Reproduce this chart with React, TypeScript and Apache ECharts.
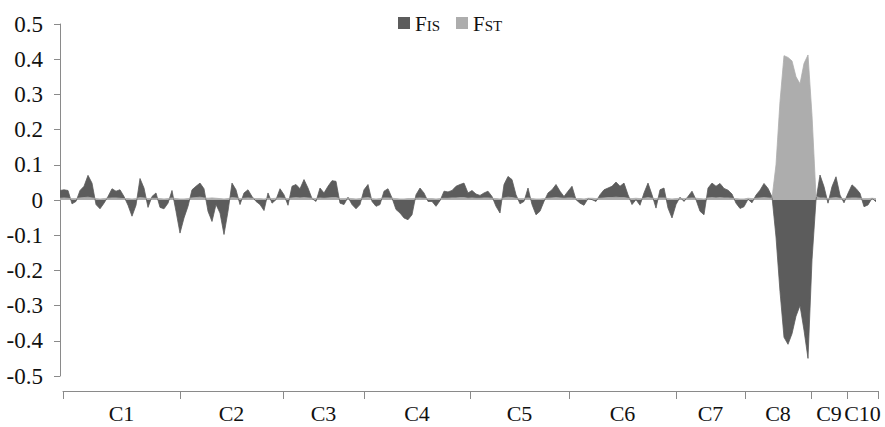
import React, { useEffect, useRef } from "react";
import * as echarts from "echarts";

// FIS values along the genome (window index order)
const fisValues: number[] = [
  0.027, 0.029, 0.027, -0.011, -0.004, 0.027, 0.039, 0.07, 0.048, -0.013,
  -0.025, -0.009, 0.01, 0.032, 0.025, 0.029, 0.01, -0.015, -0.046, -0.015,
  0.061, 0.034, -0.021, 0.01, 0.02, -0.021, -0.025, -0.009, 0.027, -0.032,
  -0.094, -0.051, -0.018, 0.029, 0.039, 0.048, 0.032, -0.032, -0.061, -0.013,
  -0.037, -0.098, -0.032, 0.048, 0.029, -0.013, 0.02, 0.029, 0.01, -0.004,
  -0.013, -0.03, 0.02, -0.009, 0.001, 0.032, 0.015, -0.015, 0.039, 0.044,
  0.032, 0.058, 0.034, 0.004, -0.004, 0.034, 0.02, 0.039, 0.055, 0.053,
  -0.009, -0.013, 0.008, -0.013, -0.025, -0.013, 0.029, 0.044, -0.004, -0.018,
  -0.013, 0.025, 0.032, 0.006, -0.027, -0.037, -0.051, -0.056, -0.042, 0.015,
  0.034, 0.02, -0.004, -0.004, -0.018, -0.002, 0.025, 0.023, 0.027, 0.039,
  0.044, 0.048, 0.02, 0.027, 0.017, 0.013, 0.02, 0.025, 0.01, -0.018,
  -0.037, 0.044, 0.067, 0.058, 0.015, -0.011, -0.004, 0.034, -0.013, -0.042,
  -0.032, -0.004, 0.02, 0.029, 0.044, 0.025, 0.01, 0.025, 0.039, 0.001,
  -0.009, -0.015, 0.004, 0.001, -0.004, 0.015, 0.029, 0.034, 0.039, 0.051,
  0.039, 0.048, 0.015, -0.013, 0.001, -0.015, 0.02, 0.048, 0.015, -0.023,
  0.029, 0.034, -0.023, -0.051, -0.013, 0.008, -0.004, 0.01, 0.025, 0.001,
  -0.032, -0.042, 0.034, 0.048, 0.039, 0.047, 0.033, 0.028, 0.017, -0.009,
  -0.024, -0.019, 0.002, -0.008, 0.014, 0.028, 0.047, 0.033, 0.009, -0.105,
  -0.26, -0.39, -0.41, -0.38, -0.33, -0.3, -0.37, -0.45, -0.17, 0.0,
  0.071, 0.038, -0.009, 0.038, 0.066, 0.014, -0.008, 0.019, 0.043, 0.033,
  0.019, -0.019, -0.014, 0.005, -0.005,
];

// FST values along the genome (same windows)
const fstValues: number[] = [
  0.005, 0.006, 0.005, 0.004, 0.004, 0.006, 0.007, 0.008, 0.006, 0.004,
  0.003, 0.004, 0.005, 0.006, 0.006, 0.005, 0.004, 0.004, 0.003, 0.004,
  0.007, 0.006, 0.004, 0.005, 0.005, 0.004, 0.003, 0.004, 0.006, 0.004,
  0.003, 0.003, 0.004, 0.006, 0.007, 0.008, 0.006, 0.005, 0.006, 0.005,
  0.004, 0.003, 0.004, 0.007, 0.006, 0.004, 0.005, 0.006, 0.005, 0.004,
  0.004, 0.003, 0.005, 0.004, 0.005, 0.006, 0.005, 0.004, 0.006, 0.007,
  0.006, 0.007, 0.006, 0.005, 0.004, 0.006, 0.005, 0.006, 0.007, 0.007,
  0.004, 0.004, 0.005, 0.004, 0.003, 0.004, 0.006, 0.007, 0.004, 0.003,
  0.004, 0.006, 0.006, 0.005, 0.004, 0.003, 0.003, 0.004, 0.004, 0.005,
  0.006, 0.005, 0.004, 0.004, 0.003, 0.004, 0.005, 0.005, 0.006, 0.006,
  0.007, 0.007, 0.005, 0.006, 0.005, 0.005, 0.006, 0.006, 0.005, 0.004,
  0.003, 0.006, 0.008, 0.007, 0.005, 0.004, 0.004, 0.006, 0.004, 0.003,
  0.003, 0.004, 0.005, 0.006, 0.007, 0.006, 0.005, 0.006, 0.006, 0.004,
  0.004, 0.003, 0.005, 0.005, 0.004, 0.005, 0.006, 0.007, 0.007, 0.008,
  0.007, 0.007, 0.005, 0.004, 0.005, 0.004, 0.005, 0.007, 0.005, 0.004,
  0.006, 0.006, 0.004, 0.003, 0.004, 0.005, 0.004, 0.005, 0.006, 0.005,
  0.004, 0.003, 0.006, 0.007, 0.006, 0.007, 0.006, 0.006, 0.005, 0.004,
  0.003, 0.003, 0.005, 0.004, 0.005, 0.006, 0.007, 0.006, 0.005, 0.1,
  0.28, 0.41, 0.405, 0.395, 0.35, 0.33, 0.388, 0.412, 0.24, 0.01,
  0.006, 0.006, 0.004, 0.006, 0.007, 0.005, 0.004, 0.005, 0.006, 0.006,
  0.005, 0.004, 0.004, 0.005, 0.004,
];

// chromosome names and boundaries (in window-index units)
const chromosomes: string[] = ["C1", "C2", "C3", "C4", "C5", "C6", "C7", "C8", "C9", "C10"];
const chromosomeBounds: number[] = [0.75, 30, 55.75, 76, 102.5, 127.25, 154, 171.25, 187.75, 196.75, 204.5];

const yTicks: number[] = [-0.5, -0.4, -0.3, -0.2, -0.1, 0, 0.1, 0.2, 0.3, 0.4, 0.5];

const FONT = "Liberation Serif";

export default function App() {
  const ref = useRef<HTMLDivElement>(null);

  useEffect(() => {
    if (!ref.current) return;
    const chart = echarts.init(ref.current, undefined, { renderer: "svg" });

    const mids = chromosomes.map((_, i) => (chromosomeBounds[i] + chromosomeBounds[i + 1]) / 2);
    const nameForMid = (v: number) => {
      let best = 0;
      let bd = Infinity;
      mids.forEach((m, i) => {
        const d = Math.abs(m - v);
        if (d < bd) {
          bd = d;
          best = i;
        }
      });
      return chromosomes[best];
    };

    const fisData = fisValues.map((v, i) => [i, v]);
    const fstData = fstValues.map((v, i) => [i, v]);

    const option: any = {
      animation: false,
      backgroundColor: "#ffffff",
      textStyle: { fontFamily: FONT },
      legend: {
        left: 393,
        top: 8,
        icon: "rect",
        itemWidth: 12,
        itemHeight: 12,
        itemGap: 16,
        data: ["FIS", "FST"],
        formatter: (n: string) => `{a|${n[0]}}{b|${n.slice(1)}}`,
        textStyle: {
          fontFamily: FONT,
          color: "#111",
          rich: {
            a: { fontSize: 21, fontFamily: FONT, color: "#111", verticalAlign: "bottom", lineHeight: 22 },
            b: { fontSize: 15, fontFamily: FONT, color: "#111", verticalAlign: "bottom", lineHeight: 22, padding: [0, 0, 1, 0] },
          },
        },
      },
      grid: [
        { left: 60, right: 9, top: 24, bottom: 51 },
        { left: 63, right: 7, top: 380, bottom: 36 },
      ],
      xAxis: [
        {
          gridIndex: 0,
          type: "value",
          min: 0,
          max: fisValues.length - 1,
          show: false,
          splitLine: { show: false },
        },
        {
          gridIndex: 1,
          type: "value",
          min: chromosomeBounds[0],
          max: chromosomeBounds[chromosomeBounds.length - 1],
          position: "bottom",
          axisLine: { show: true, lineStyle: { color: "#8a8a8a", width: 1 } },
          axisTick: {
            show: true,
            customValues: chromosomeBounds,
            length: 8,
            inside: false,
            lineStyle: { color: "#8a8a8a", width: 1 },
          },
          axisLabel: {
            show: true,
            customValues: mids,
            margin: 11,
            fontSize: 22,
            fontFamily: FONT,
            color: "#111",
            formatter: (v: number) => nameForMid(v),
          },
          splitLine: { show: false },
        },
      ],
      yAxis: [
        {
          gridIndex: 0,
          type: "value",
          min: yTicks[0],
          max: yTicks[yTicks.length - 1],
          interval: 0.1,
          axisLine: { show: true, lineStyle: { color: "#8a8a8a", width: 1 } },
          axisTick: { show: true, length: 6, lineStyle: { color: "#8a8a8a" } },
          splitLine: { show: false },
          axisLabel: {
            margin: 17,
            fontSize: 23,
            fontFamily: FONT,
            color: "#111",
            formatter: (v: number) => String(Math.round(v * 10) / 10),
          },
        },
        {
          gridIndex: 1,
          type: "value",
          show: false,
          splitLine: { show: false },
        },
      ],
      series: [
        {
          name: "FIS",
          type: "line",
          xAxisIndex: 0,
          yAxisIndex: 0,
          data: fisData,
          symbol: "none",
          color: "#5c5c5c",
          lineStyle: { width: 0.8, color: "#5c5c5c" },
          areaStyle: { color: "#5c5c5c", opacity: 1 },
        },
        {
          name: "FST",
          type: "line",
          xAxisIndex: 0,
          yAxisIndex: 0,
          data: fstData,
          symbol: "none",
          color: "#adadad",
          lineStyle: { width: 0.8, color: "#adadad" },
          areaStyle: { color: "#adadad", opacity: 1 },
        },
      ],
    };

    chart.setOption(option);
    return () => {
      chart.dispose();
    };
  }, []);

  return (
    <div
      ref={ref}
      style={{ position: "fixed", left: 0, top: 0, width: 885, height: 427, background: "#fff" }}
    />
  );
}
